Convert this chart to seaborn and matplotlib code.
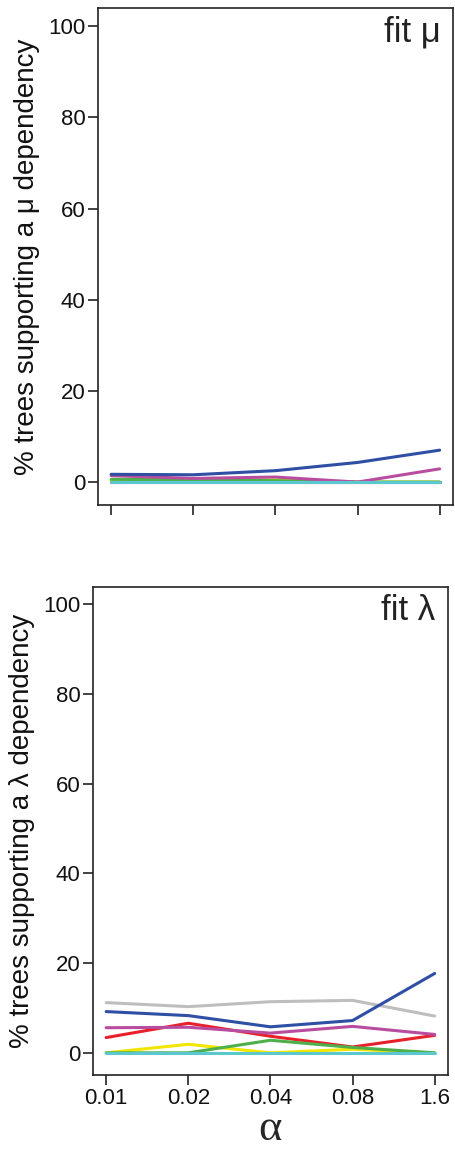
import numpy as np
import pandas as pd
import seaborn as sns
import matplotlib.pyplot as plt

# alpha values (categorical x axis)
alphas = ["0.01", "0.02", "0.04", "0.08", "1.6"]

# % trees supporting a mu dependency (fit mu)
mu_gray = [0.0, 0.0, 0.0, 0.0, 0.0]
mu_cyan = [0.0, 0.0, 0.0, 0.0, 0.0]
mu_red = [0.0, 0.0, 0.0, 0.0, 0.0]
mu_yellow = [0.3, 0.3, 0.5, 0.0, 0.0]
mu_green = [0.6, 0.5, 0.3, 0.0, 0.0]
mu_magenta = [1.4, 0.8, 1.1, 0.0, 2.9]
mu_blue = [1.7, 1.6, 2.5, 4.3, 7.0]

# % trees supporting a lambda dependency (fit lambda)
lam_gray = [11.2, 10.3, 11.4, 11.7, 8.2]
lam_cyan = [0.0, 0.0, 0.0, 0.0, 0.0]
lam_yellow = [0.0, 1.9, 0.0, 0.8, 0.0]
lam_green = [0.0, 0.0, 2.8, 1.2, 0.0]
lam_red = [3.4, 6.6, 3.7, 1.3, 3.9]
lam_magenta = [5.6, 5.7, 4.4, 5.9, 4.1]
lam_blue = [9.2, 8.3, 5.8, 7.2, 17.7]

series = ["gray", "red", "yellow", "green", "magenta", "blue", "cyan"]
palette = {"gray": "#BEBEBE", "red": "#E8202A", "yellow": "#F2E600",
           "green": "#4DB04A", "magenta": "#B84DA0", "blue": "#2E4FA3",
           "cyan": "#5BC8D0"}


def long_df(d):
    rows = []
    for name in series:
        for i, v in enumerate(d[name]):
            rows.append({"x": i, "y": v, "series": name})
    return pd.DataFrame(rows)


df_mu = long_df({"gray": mu_gray, "red": mu_red, "yellow": mu_yellow,
                 "green": mu_green, "magenta": mu_magenta, "blue": mu_blue,
                 "cyan": mu_cyan})
df_lam = long_df({"gray": lam_gray, "red": lam_red, "yellow": lam_yellow,
                  "green": lam_green, "magenta": lam_magenta, "blue": lam_blue,
                  "cyan": lam_cyan})

sns.set_style("ticks")
plt.rcParams['font.family'] = ['Liberation Sans', 'DejaVu Sans']

fig = plt.figure(figsize=(4.56, 11.5), dpi=100)
ax1 = fig.add_axes([0.215, 0.561, 0.778, 0.432])
ax2 = fig.add_axes([0.204, 0.065, 0.778, 0.425])

for ax, df, lab, tag in [(ax1, df_mu, "\u03bc", "fit \u03bc"),
                         (ax2, df_lam, "\u03bb", "fit \u03bb")]:
    sns.lineplot(data=df, x="x", y="y", hue="series", palette=palette,
                 hue_order=series, linewidth=2.2, legend=False, ax=ax)
    ax.set_xlim(-0.16, 4.16)
    ax.set_ylim(-5, 104)
    ax.set_yticks([0, 20, 40, 60, 80, 100])
    ax.set_xticks(range(len(alphas)))
    ax.set_ylabel("% trees supporting a " + lab + " dependency", fontsize=20,
                  color="#111111", labelpad=6)
    ax.set_xlabel("")
    ax.tick_params(axis="both", labelsize=16, length=7, width=1.2,
                   color="#222222", labelcolor="#111111", pad=2)
    for s in ax.spines.values():
        s.set_linewidth(1.2)
        s.set_color("#222222")
    ax.text(0.965, 0.985, tag, transform=ax.transAxes, ha="right", va="top",
            fontsize=25, color="#222222")

ax1.set_xticklabels([])
ax2.set_xticklabels(alphas)
ax2.set_xlabel("\u03b1", fontsize=32, labelpad=0,
               family=["Liberation Serif", "DejaVu Serif"])

fig.savefig("out.png", dpi=100)
